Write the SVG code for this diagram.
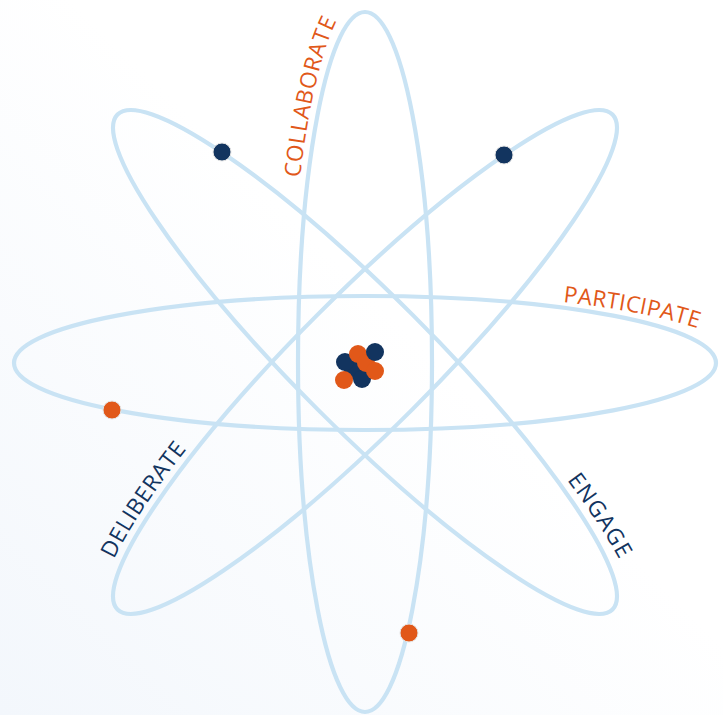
<svg xmlns="http://www.w3.org/2000/svg" width="723" height="715" viewBox="0 0 723 715">
<defs>
<linearGradient id="bg" x1="1" y1="0" x2="0" y2="1">
<stop offset="0" stop-color="#ffffff"/>
<stop offset="0.45" stop-color="#ffffff"/>
<stop offset="1" stop-color="#f3f7fc"/>
</linearGradient>
<path id="pCollab" d="M 300 178 A 74 368 0 0 1 364 -5"/>
<path id="pPart" d="M 563 302 A 383 71 0 0 1 727 341"/>
<path id="pDelib" d="M 114 559 A 365 75 -45 0 1 236 390"/>
<path id="pEngage" d="M 567 480 A 383 75 45 0 1 640 613"/>
</defs>
<style>
.orbit{fill:none;stroke:#c9e3f4;stroke-width:4.2}
.navy{fill:#12345f}
.orange{fill:#e15819}
.el{stroke:#e4e4e4;stroke-width:1}
.lbl{font-family:"Open Sans","Liberation Sans",sans-serif;font-size:22.5px}
.lo{fill:#e15819}
.ln{fill:#12345f}
</style>
<rect x="0" y="0" width="723" height="715" fill="url(#bg)"/>
<g id="orbits">
<ellipse id="orbit-v" class="orbit" cx="365" cy="362" rx="67" ry="350"/>
<ellipse id="orbit-h" class="orbit" cx="365" cy="363" rx="351" ry="67"/>
<ellipse id="orbit-d1" class="orbit" cx="365" cy="362" rx="350" ry="67" transform="rotate(45 365 362)"/>
<ellipse id="orbit-d2" class="orbit" cx="365" cy="362" rx="350" ry="67" transform="rotate(-45 365 362)"/>
</g>
<g id="electrons">
<circle class="navy el" cx="222" cy="152" r="9"/>
<circle class="navy el" cx="504" cy="155" r="9"/>
<circle class="orange el" cx="112" cy="410" r="9"/>
<circle class="orange el" cx="409" cy="633" r="9"/>
</g>
<g id="nucleus">
<circle class="navy" cx="353" cy="370" r="9"/>
<circle class="navy" cx="345" cy="362" r="9"/>
<circle class="orange" cx="344" cy="380" r="9"/>
<circle class="navy" cx="362" cy="379" r="9"/>
<circle class="orange" cx="358" cy="354" r="9"/>
<circle class="orange" cx="366" cy="363" r="9"/>
<circle class="orange" cx="375" cy="371" r="9"/>
<circle class="navy" cx="375" cy="352" r="9"/>
</g>
<g id="label-collaborate"><text class="lbl lo"><textPath href="#pCollab" textLength="162" lengthAdjust="spacing">COLLABORATE</textPath></text></g>
<g id="label-participate"><text class="lbl lo"><textPath href="#pPart" textLength="137" lengthAdjust="spacing">PARTICIPATE</textPath></text></g>
<g id="label-deliberate"><text class="lbl ln"><textPath href="#pDelib" textLength="132" lengthAdjust="spacing">DELIBERATE</textPath></text></g>
<g id="label-engage"><text class="lbl ln"><textPath href="#pEngage" textLength="95" lengthAdjust="spacing">ENGAGE</textPath></text></g>
</svg>
